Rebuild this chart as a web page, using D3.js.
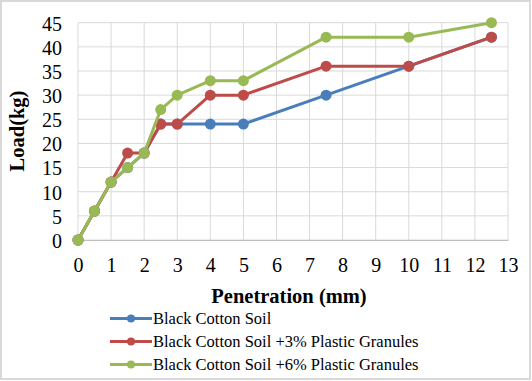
<!DOCTYPE html>
<html><head><meta charset="utf-8">
<script src="https://cdn.jsdelivr.net/npm/d3@7"></script>
<style>body{margin:0;background:#fff}svg{display:block}</style>
</head><body>
<svg id="c" width="532" height="381"></svg>
<script>
const penetration = [0, 0.5, 1, 1.5, 2, 2.5, 3, 4, 5, 7.5, 10, 12.5];
const seriesNames = ["Black Cotton Soil", "Black Cotton Soil +3% Plastic Granules", "Black Cotton Soil +6% Plastic Granules"];
const loadBCS = [0, 6, 12, 15, 18, 24, 24, 24, 24, 30, 36, 42];
const loadBCS3 = [0, 6, 12, 18, 18, 24, 24, 30, 30, 36, 36, 42];
const loadBCS6 = [0, 6, 12, 15, 18, 27, 30, 33, 33, 42, 42, 45];
const colors = ["#4A7EBB", "#BE4B48", "#98B954"];
const xTicks = d3.range(0, 14, 1);
const yTicks = d3.range(0, 50, 5);

const svg = d3.select("#c");
svg.append("rect").attr("x",1).attr("y",1).attr("width",529).attr("height",378)
  .attr("fill","#fff").attr("stroke","#D9D9D9").attr("stroke-width",2);

const x = d3.scaleLinear().domain([0,13]).range([78,508]);
const y = d3.scaleLinear().domain([0,45]).range([240,22.7]);
const font = "'Liberation Serif', 'Times New Roman', serif";

const g = svg.append("g");
g.selectAll("line.v").data(xTicks).join("line")
  .attr("x1",d=>x(d)).attr("x2",d=>x(d)).attr("y1",y(0)).attr("y2",y(45))
  .attr("stroke","#D9D9D9").attr("stroke-width",1);
g.selectAll("line.h").data(yTicks).join("line")
  .attr("x1",x(0)).attr("x2",x(13)).attr("y1",d=>y(d)).attr("y2",d=>y(d))
  .attr("stroke","#D9D9D9").attr("stroke-width",1);

const xAxis = svg.append("g").attr("transform",`translate(0,${y(0)})`)
  .call(d3.axisBottom(x).tickValues(xTicks).tickSize(0).tickPadding(17.5));
xAxis.attr("font-family",font).attr("font-size",20);
xAxis.select(".domain").attr("stroke","#BFBFBF");
xAxis.selectAll("text").attr("fill","#000");

const yAxis = svg.append("g").attr("transform",`translate(${x(0)},0)`)
  .call(d3.axisLeft(y).tickValues(yTicks).tickSize(0).tickPadding(16));
yAxis.attr("font-family",font).attr("font-size",20);
yAxis.select(".domain").remove();
yAxis.selectAll("text").attr("fill","#000").attr("dy","0.37em");

svg.append("text").attr("x",289).attr("y",303).attr("text-anchor","middle")
  .attr("font-family",font).attr("font-weight","bold").attr("font-size",20.5).text("Penetration (mm)");
svg.append("text").attr("transform","translate(24,131) rotate(-90)").attr("text-anchor","middle")
  .attr("font-family",font).attr("font-weight","bold").attr("font-size",20.5).text("Load(kg)");

const all = [loadBCS, loadBCS3, loadBCS6];
const line = d3.line().x(d=>x(d[0])).y(d=>y(d[1]));
all.forEach((vals,i)=>{
  const pts = penetration.map((p,j)=>[p, vals[j]]);
  svg.append("path").datum(pts).attr("d",line).attr("fill","none")
    .attr("stroke",colors[i]).attr("stroke-width",3).attr("stroke-linejoin","round");
  svg.append("g").selectAll("circle").data(pts).join("circle")
    .attr("cx",d=>x(d[0])).attr("cy",d=>y(d[1])).attr("r",5.5).attr("fill",colors[i]);
});

const legY = [318.5, 341.5, 364.5];
seriesNames.forEach((n,i)=>{
  svg.append("line").attr("x1",110).attr("x2",152).attr("y1",legY[i]).attr("y2",legY[i])
    .attr("stroke",colors[i]).attr("stroke-width",3);
  svg.append("circle").attr("cx",131).attr("cy",legY[i]).attr("r",4).attr("fill",colors[i]);
  svg.append("text").attr("x",153).attr("y",legY[i]+5.5)
    .attr("font-family",font).attr("font-size",16.5).attr("fill","#000").text(n);
});
</script>
</body></html>
